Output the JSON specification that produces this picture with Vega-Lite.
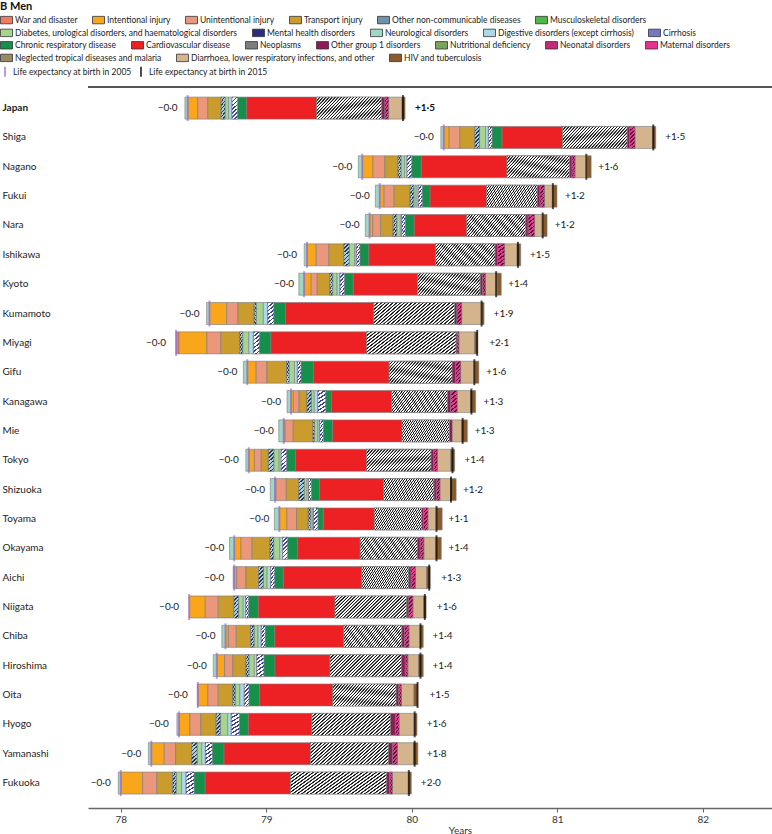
{
"$schema": "https://vega.github.io/schema/vega-lite/v6.json",
"width": 684, "height": 721,
"autosize": {"type": "none"},
"padding": {"left": 88, "top": 87, "right": 0, "bottom": 26},
"background": "white",
"config": {
  "font": "Lato, Liberation Sans, sans-serif",
  "view": {"stroke": "#555555", "strokeWidth": 2, "strokeDash": [684, 4000]},
  "legend": {"labelFontSize": 8.5, "labelColor": "#222222", "labelLimit": 400, "symbolStrokeColor": "#333333", "symbolStrokeWidth": 0.8, "symbolType": "M-1,-0.62H1V0.62H-1Z", "symbolSize": 144, "labelOffset": 2, "columnPadding": 12, "rowPadding": 0, "padding": 0, "orient": "none", "direction": "horizontal", "titlePadding": 2}
},
"datasets": {
  "causes": [
    {"code": "W", "name": "War and disaster", "order": 1},
    {"code": "I", "name": "Intentional injury", "order": 2},
    {"code": "U", "name": "Unintentional injury", "order": 3},
    {"code": "T", "name": "Transport injury", "order": 4},
    {"code": "O", "name": "Other non-communicable diseases", "order": 5},
    {"code": "D", "name": "Diabetes, urological disorders, and haematological disorders", "order": 7},
    {"code": "N", "name": "Neurological disorders", "order": 9},
    {"code": "Dg", "name": "Digestive disorders (except cirrhosis)", "order": 10},
    {"code": "C", "name": "Cirrhosis", "order": 11},
    {"code": "R", "name": "Chronic respiratory disease", "order": 12},
    {"code": "CV", "name": "Cardiovascular disease", "order": 13},
    {"code": "Ne", "name": "Neoplasms", "order": 14},
    {"code": "G1", "name": "Other group 1 disorders", "order": 15},
    {"code": "Nn", "name": "Neonatal disorders", "order": 17},
    {"code": "L", "name": "Diarrhoea, lower respiratory infections, and other", "order": 20},
    {"code": "H", "name": "HIV and tuberculosis", "order": 21}
  ]
},
"data": {"values": [
  {"p": "Japan", "a": 78.46, "b": 79.94, "pos": "+1·5", "N": -0.019, "I": 0.069, "U": 0.069, "T": 0.092, "O": 0.027, "D": 0.025, "Dg": 0.023, "C": 0.038, "R": 0.062, "CV": 0.481, "Ne": 0.447, "G1": 0.023, "Nn": 0.025, "L": 0.092, "H": 0.021},
  {"p": "Shiga", "a": 80.22, "b": 81.66, "pos": "+1·5", "N": -0.020, "I": 0.037, "U": 0.074, "T": 0.103, "O": 0.032, "D": 0.041, "Dg": 0.020, "C": 0.025, "R": 0.069, "CV": 0.415, "Ne": 0.444, "G1": 0.017, "Nn": 0.037, "L": 0.123, "H": 0.020},
  {"p": "Nagano", "a": 79.66, "b": 81.20, "pos": "+1·6", "N": -0.027, "I": 0.074, "U": 0.081, "T": 0.091, "O": 0.020, "D": 0.025, "Dg": 0.017, "C": 0.032, "R": 0.066, "CV": 0.589, "Ne": 0.430, "G1": 0.017, "Nn": 0.020, "L": 0.086, "H": 0.025},
  {"p": "Fukui", "a": 79.78, "b": 80.97, "pos": "+1·2", "N": -0.030, "I": 0.030, "U": 0.069, "T": 0.110, "O": 0.025, "D": 0.017, "Dg": 0.014, "C": 0.027, "R": 0.054, "CV": 0.388, "Ne": 0.348, "G1": 0.020, "Nn": 0.030, "L": 0.061, "H": 0.025},
  {"p": "Nara", "a": 79.71, "b": 80.90, "pos": "+1·2", "N": -0.029, "I": 0.022, "U": 0.054, "T": 0.086, "O": 0.025, "D": 0.025, "Dg": 0.010, "C": 0.024, "R": 0.061, "CV": 0.361, "Ne": 0.405, "G1": 0.017, "Nn": 0.044, "L": 0.061, "H": 0.025},
  {"p": "Ishikawa", "a": 79.28, "b": 80.73, "pos": "+1·5", "N": -0.019, "I": 0.064, "U": 0.086, "T": 0.103, "O": 0.037, "D": 0.037, "Dg": 0.012, "C": 0.025, "R": 0.061, "CV": 0.459, "Ne": 0.408, "G1": 0.017, "Nn": 0.049, "L": 0.086, "H": 0.025},
  {"p": "Kyoto", "a": 79.26, "b": 80.58, "pos": "+1·4", "N": -0.036, "I": 0.049, "U": 0.042, "T": 0.086, "O": 0.020, "D": 0.030, "Dg": 0.020, "C": 0.030, "R": 0.061, "CV": 0.442, "Ne": 0.430, "G1": 0.017, "Nn": 0.020, "L": 0.081, "H": 0.027},
  {"p": "Kumamoto", "a": 78.61, "b": 80.48, "pos": "+1·9", "N": -0.020, "I": 0.118, "U": 0.078, "T": 0.111, "O": 0.014, "D": 0.049, "Dg": 0.030, "C": 0.042, "R": 0.081, "CV": 0.606, "Ne": 0.555, "G1": 0.017, "Nn": 0.032, "L": 0.140, "H": 0.014},
  {"p": "Miyagi", "a": 78.38, "b": 80.45, "pos": "+2·1", "W": 0.020, "I": 0.192, "U": 0.096, "T": 0.130, "O": 0.020, "D": 0.042, "Dg": 0.032, "C": 0.042, "R": 0.078, "CV": 0.658, "Ne": 0.614, "G1": 0.008, "Nn": 0.012, "L": 0.108, "H": 0.020},
  {"p": "Gifu", "a": 78.87, "b": 80.43, "pos": "+1·6", "N": -0.027, "I": 0.061, "U": 0.074, "T": 0.135, "O": 0.017, "D": 0.037, "Dg": 0.020, "C": 0.025, "R": 0.086, "CV": 0.520, "Ne": 0.432, "G1": 0.025, "Nn": 0.034, "L": 0.098, "H": 0.027},
  {"p": "Kanagawa", "a": 79.17, "b": 80.41, "pos": "+1·3", "N": -0.027, "I": 0.017, "U": 0.039, "T": 0.054, "O": 0.030, "D": 0.020, "Dg": 0.025, "C": 0.054, "R": 0.039, "CV": 0.415, "Ne": 0.383, "G1": 0.022, "Nn": 0.044, "L": 0.093, "H": 0.034},
  {"p": "Mie", "a": 79.12, "b": 80.35, "pos": "+1·3", "N": -0.034, "I": 0.010, "U": 0.056, "T": 0.135, "O": 0.010, "D": 0.025, "Dg": 0.012, "C": 0.025, "R": 0.064, "CV": 0.476, "Ne": 0.326, "G1": 0.020, "L": 0.066, "H": 0.037},
  {"p": "Tokyo", "a": 78.88, "b": 80.28, "pos": "+1·4", "N": -0.020, "I": 0.039, "U": 0.047, "T": 0.049, "O": 0.037, "D": 0.037, "Dg": 0.014, "C": 0.037, "R": 0.061, "CV": 0.489, "Ne": 0.442, "G1": 0.020, "Nn": 0.025, "L": 0.091, "H": 0.027},
  {"p": "Shizuoka", "a": 79.06, "b": 80.27, "pos": "+1·2", "N": -0.032, "I": 0.007, "U": 0.071, "T": 0.086, "O": 0.037, "D": 0.020, "Dg": 0.010, "C": 0.020, "R": 0.056, "CV": 0.439, "Ne": 0.346, "G1": 0.017, "Nn": 0.025, "L": 0.074, "H": 0.037},
  {"p": "Toyama", "a": 79.09, "b": 80.17, "pos": "+1·1", "N": -0.034, "I": 0.052, "U": 0.066, "T": 0.081, "O": 0.017, "D": 0.014, "Dg": 0.005, "C": 0.030, "R": 0.037, "CV": 0.351, "Ne": 0.326, "G1": 0.012, "Nn": 0.030, "L": 0.061, "H": 0.037},
  {"p": "Okayama", "a": 78.78, "b": 80.17, "pos": "+1·4", "N": -0.032, "I": 0.047, "U": 0.076, "T": 0.123, "O": 0.025, "D": 0.042, "Dg": 0.020, "C": 0.034, "R": 0.069, "CV": 0.430, "Ne": 0.392, "G1": 0.020, "Nn": 0.025, "L": 0.083, "H": 0.037},
  {"p": "Aichi", "a": 78.78, "b": 80.12, "pos": "+1·3", "N": -0.007, "I": 0.017, "U": 0.064, "T": 0.086, "O": 0.034, "D": 0.025, "Dg": 0.025, "C": 0.027, "R": 0.059, "CV": 0.540, "Ne": 0.322, "G1": 0.017, "Nn": 0.030, "L": 0.076, "H": 0.025},
  {"p": "Niigata", "a": 78.47, "b": 80.09, "pos": "+1·6", "I": 0.111, "U": 0.089, "T": 0.108, "O": 0.032, "D": 0.032, "Dg": 0.017, "C": 0.020, "R": 0.066, "CV": 0.528, "Ne": 0.491, "G1": 0.012, "Nn": 0.032, "L": 0.074, "H": 0.017},
  {"p": "Chiba", "a": 78.72, "b": 80.06, "pos": "+1·4", "N": -0.025, "I": 0.020, "U": 0.054, "T": 0.098, "O": 0.025, "D": 0.027, "Dg": 0.022, "C": 0.027, "R": 0.066, "CV": 0.474, "Ne": 0.398, "G1": 0.020, "Nn": 0.030, "L": 0.078, "H": 0.020},
  {"p": "Hiroshima", "a": 78.66, "b": 80.06, "pos": "+1·4", "N": -0.024, "I": 0.054, "U": 0.056, "T": 0.091, "O": 0.020, "D": 0.037, "Dg": 0.017, "C": 0.049, "R": 0.076, "CV": 0.378, "Ne": 0.491, "G1": 0.027, "Nn": 0.017, "L": 0.074, "H": 0.032},
  {"p": "Oita", "a": 78.53, "b": 80.04, "pos": "+1·5", "N": -0.003, "I": 0.069, "U": 0.071, "T": 0.100, "O": 0.017, "D": 0.032, "Dg": 0.030, "C": 0.032, "R": 0.074, "CV": 0.503, "Ne": 0.434, "G1": 0.020, "Nn": 0.017, "L": 0.086, "H": 0.025},
  {"p": "Hyogo", "a": 78.40, "b": 80.02, "pos": "+1·6", "N": -0.014, "I": 0.076, "U": 0.074, "T": 0.106, "O": 0.030, "D": 0.049, "Dg": 0.025, "C": 0.056, "R": 0.061, "CV": 0.437, "Ne": 0.540, "G1": 0.034, "Nn": 0.025, "L": 0.106, "H": 0.017},
  {"p": "Yamanashi", "a": 78.21, "b": 80.02, "pos": "+1·8", "N": -0.020, "I": 0.089, "U": 0.078, "T": 0.111, "O": 0.037, "D": 0.032, "Dg": 0.025, "C": 0.047, "R": 0.081, "CV": 0.594, "Ne": 0.535, "G1": 0.030, "Nn": 0.032, "L": 0.111, "H": 0.030},
  {"p": "Fukuoka", "a": 78.00, "b": 79.98, "pos": "+2·0", "N": -0.017, "I": 0.150, "U": 0.098, "T": 0.108, "O": 0.025, "D": 0.037, "Dg": 0.032, "C": 0.054, "R": 0.076, "CV": 0.587, "Ne": 0.658, "G1": 0.025, "Nn": 0.017, "L": 0.113, "H": 0.017}
]},
"transform": [
  {"fold": ["W", "I", "U", "T", "O", "D", "N", "Dg", "C", "R", "CV", "Ne", "G1", "Nn", "L", "H"], "as": ["code", "v"]},
  {"filter": {"field": "v", "valid": true}},
  {"lookup": "code", "from": {"data": {"name": "causes"}, "key": "code", "fields": ["name", "order"]}},
  {"stack": "v", "groupby": ["p"], "sort": [{"field": "order", "order": "ascending"}], "as": ["s0", "s1"]},
  {"calculate": "datum.a + datum.s0", "as": "x0"},
  {"calculate": "datum.a + datum.s1", "as": "x1"}
],
"encoding": {
  "y": {"field": "p", "type": "nominal", "title": null,
    "scale": {"type": "band", "domain": ["Japan", "Shiga", "Nagano", "Fukui", "Nara", "Ishikawa", "Kyoto", "Kumamoto", "Miyagi", "Gifu", "Kanagawa", "Mie", "Tokyo", "Shizuoka", "Toyama", "Okayama", "Aichi", "Niigata", "Chiba", "Hiroshima", "Oita", "Hyogo", "Yamanashi", "Fukuoka"], "paddingInner": 0.25, "paddingOuter": 0.41, "align": 0.42},
    "axis": {"labelAlign": "left", "labelPadding": 86, "ticks": false, "domain": false, "labelFontSize": 10, "labelColor": "#222222", "labelBaseline": "middle", "labelLimit": 90,
      "labelFontWeight": {"condition": {"test": "datum.value === 'Japan'", "value": "bold"}, "value": "normal"}}}
},
"resolve": {"scale": {"color": "independent"}},
"layer": [
  {
    "transform": [{"filter": {"field": "name", "oneOf": ["War and disaster", "Intentional injury", "Unintentional injury", "Transport injury", "Other non-communicable diseases", "Musculoskeletal disorders"]}}],
    "mark": {"type": "rect", "stroke": "#7a7a7a", "strokeWidth": 0.6},
    "encoding": {
      "x": {"field": "x0", "type": "quantitative", "title": "Years", "scale": {"domain": [77.775, 82.476], "nice": false, "zero": false},
        "axis": {"orient": "bottom", "values": [78, 79, 80, 81, 82], "format": "d", "grid": false, "tickSize": 4, "tickColor": "#666666", "domainColor": "#666666", "domainWidth": 1.5, "labelFontSize": 10, "labelColor": "#333333", "labelPadding": 2, "titleFontSize": 10, "titleFontWeight": "normal", "titleColor": "#333333", "titleX": 372, "titleY": 22, "titleAlign": "center", "titleBaseline": "middle"}},
      "x2": {"field": "x1"},
      "color": {"field": "name", "type": "nominal",
        "scale": {"domain": ["War and disaster", "Intentional injury", "Unintentional injury", "Transport injury", "Other non-communicable diseases", "Musculoskeletal disorders"], "range": ["#f27a63", "#f9a61a", "#eb977c", "#c99c2d", "#6f93a8", "#4db848"]},
        "legend": {"title": "B   Men", "titleFontSize": 11, "titleFontWeight": "bold", "titleColor": "#111111", "columns": 6, "orient": "none", "legendX": -88, "legendY": -86.5}}
    }
  },
  {
    "transform": [{"filter": {"field": "name", "oneOf": ["Diabetes, urological disorders, and haematological disorders", "Mental health disorders", "Neurological disorders", "Digestive disorders (except cirrhosis)", "Cirrhosis"]}}],
    "mark": {"type": "rect", "stroke": "#7a7a7a", "strokeWidth": 0.6},
    "encoding": {
      "x": {"field": "x0", "type": "quantitative", "title": "Years", "scale": {"domain": [77.775, 82.476], "nice": false, "zero": false}},
      "x2": {"field": "x1"},
      "color": {"field": "name", "type": "nominal",
        "scale": {"domain": ["Diabetes, urological disorders, and haematological disorders", "Mental health disorders", "Neurological disorders", "Digestive disorders (except cirrhosis)", "Cirrhosis"], "range": ["#a5d58e", "#2b2c7c", "#9ed7c3", "#acd9ea", "#7578c0"]},
        "legend": {"title": null, "columns": 5, "orient": "none", "legendX": -88, "legendY": -60.7}}
    }
  },
  {
    "transform": [{"filter": {"field": "name", "oneOf": ["Chronic respiratory disease", "Cardiovascular disease", "Neoplasms", "Other group 1 disorders", "Nutritional deficiency", "Neonatal disorders", "Maternal disorders"]}}],
    "mark": {"type": "rect", "stroke": "#7a7a7a", "strokeWidth": 0.6},
    "encoding": {
      "x": {"field": "x0", "type": "quantitative", "title": "Years", "scale": {"domain": [77.775, 82.476], "nice": false, "zero": false}},
      "x2": {"field": "x1"},
      "color": {"field": "name", "type": "nominal",
        "scale": {"domain": ["Chronic respiratory disease", "Cardiovascular disease", "Neoplasms", "Other group 1 disorders", "Nutritional deficiency", "Neonatal disorders", "Maternal disorders"], "range": ["#15904a", "#ed2024", "#7d7d7d", "#8e1a57", "#7ca35a", "#c42a78", "#e8328e"]},
        "legend": {"title": null, "columns": 7, "orient": "none", "legendX": -88, "legendY": -48.3}}
    }
  },
  {
    "transform": [{"filter": {"field": "name", "oneOf": ["Neglected tropical diseases and malaria", "Diarrhoea, lower respiratory infections, and other", "HIV and tuberculosis"]}}],
    "mark": {"type": "rect", "stroke": "#7a7a7a", "strokeWidth": 0.6},
    "encoding": {
      "x": {"field": "x0", "type": "quantitative", "title": "Years", "scale": {"domain": [77.775, 82.476], "nice": false, "zero": false}},
      "x2": {"field": "x1"},
      "color": {"field": "name", "type": "nominal",
        "scale": {"domain": ["Neglected tropical diseases and malaria", "Diarrhoea, lower respiratory infections, and other", "HIV and tuberculosis"], "range": ["#9a8a62", "#d4b48d", "#8b5a2b"]},
        "legend": {"title": null, "columns": 3, "orient": "none", "legendX": -88, "legendY": -35.7}}
    }
  },
  {
    "transform": [{"filter": {"field": "code", "equal": "Ne"}}],
    "mark": {"type": "rect", "stroke": "#7a7a7a", "strokeWidth": 0.6,
      "fill": {"gradient": "linear", "x1": 0, "y1": 0, "x2": 1.196, "y2": 0.376, "stops": [
        {"offset": 0, "color": "#1a1a1a"}, {"offset": 0.0107, "color": "#1a1a1a"}, {"offset": 0.0161, "color": "#ffffff"}, {"offset": 0.0304, "color": "#ffffff"},
        {"offset": 0.0357, "color": "#1a1a1a"}, {"offset": 0.0464, "color": "#1a1a1a"}, {"offset": 0.0518, "color": "#ffffff"}, {"offset": 0.0661, "color": "#ffffff"},
        {"offset": 0.0714, "color": "#1a1a1a"}, {"offset": 0.0821, "color": "#1a1a1a"}, {"offset": 0.0875, "color": "#ffffff"}, {"offset": 0.1018, "color": "#ffffff"},
        {"offset": 0.1071, "color": "#1a1a1a"}, {"offset": 0.1179, "color": "#1a1a1a"}, {"offset": 0.1232, "color": "#ffffff"}, {"offset": 0.1375, "color": "#ffffff"},
        {"offset": 0.1429, "color": "#1a1a1a"}, {"offset": 0.1536, "color": "#1a1a1a"}, {"offset": 0.1589, "color": "#ffffff"}, {"offset": 0.1732, "color": "#ffffff"},
        {"offset": 0.1786, "color": "#1a1a1a"}, {"offset": 0.1893, "color": "#1a1a1a"}, {"offset": 0.1946, "color": "#ffffff"}, {"offset": 0.2089, "color": "#ffffff"},
        {"offset": 0.2143, "color": "#1a1a1a"}, {"offset": 0.2250, "color": "#1a1a1a"}, {"offset": 0.2304, "color": "#ffffff"}, {"offset": 0.2446, "color": "#ffffff"},
        {"offset": 0.2500, "color": "#1a1a1a"}, {"offset": 0.2607, "color": "#1a1a1a"}, {"offset": 0.2661, "color": "#ffffff"}, {"offset": 0.2804, "color": "#ffffff"},
        {"offset": 0.2857, "color": "#1a1a1a"}, {"offset": 0.2964, "color": "#1a1a1a"}, {"offset": 0.3018, "color": "#ffffff"}, {"offset": 0.3161, "color": "#ffffff"},
        {"offset": 0.3214, "color": "#1a1a1a"}, {"offset": 0.3321, "color": "#1a1a1a"}, {"offset": 0.3375, "color": "#ffffff"}, {"offset": 0.3518, "color": "#ffffff"},
        {"offset": 0.3571, "color": "#1a1a1a"}, {"offset": 0.3679, "color": "#1a1a1a"}, {"offset": 0.3732, "color": "#ffffff"}, {"offset": 0.3875, "color": "#ffffff"},
        {"offset": 0.3929, "color": "#1a1a1a"}, {"offset": 0.4036, "color": "#1a1a1a"}, {"offset": 0.4089, "color": "#ffffff"}, {"offset": 0.4232, "color": "#ffffff"},
        {"offset": 0.4286, "color": "#1a1a1a"}, {"offset": 0.4393, "color": "#1a1a1a"}, {"offset": 0.4446, "color": "#ffffff"}, {"offset": 0.4589, "color": "#ffffff"},
        {"offset": 0.4643, "color": "#1a1a1a"}, {"offset": 0.4750, "color": "#1a1a1a"}, {"offset": 0.4804, "color": "#ffffff"}, {"offset": 0.4946, "color": "#ffffff"},
        {"offset": 0.5000, "color": "#1a1a1a"}, {"offset": 0.5107, "color": "#1a1a1a"}, {"offset": 0.5161, "color": "#ffffff"}, {"offset": 0.5304, "color": "#ffffff"},
        {"offset": 0.5357, "color": "#1a1a1a"}, {"offset": 0.5464, "color": "#1a1a1a"}, {"offset": 0.5518, "color": "#ffffff"}, {"offset": 0.5661, "color": "#ffffff"},
        {"offset": 0.5714, "color": "#1a1a1a"}, {"offset": 0.5821, "color": "#1a1a1a"}, {"offset": 0.5875, "color": "#ffffff"}, {"offset": 0.6018, "color": "#ffffff"},
        {"offset": 0.6071, "color": "#1a1a1a"}, {"offset": 0.6179, "color": "#1a1a1a"}, {"offset": 0.6232, "color": "#ffffff"}, {"offset": 0.6375, "color": "#ffffff"},
        {"offset": 0.6429, "color": "#1a1a1a"}, {"offset": 0.6536, "color": "#1a1a1a"}, {"offset": 0.6589, "color": "#ffffff"}, {"offset": 0.6732, "color": "#ffffff"},
        {"offset": 0.6786, "color": "#1a1a1a"}, {"offset": 0.6893, "color": "#1a1a1a"}, {"offset": 0.6946, "color": "#ffffff"}, {"offset": 0.7089, "color": "#ffffff"},
        {"offset": 0.7143, "color": "#1a1a1a"}, {"offset": 0.7250, "color": "#1a1a1a"}, {"offset": 0.7304, "color": "#ffffff"}, {"offset": 0.7446, "color": "#ffffff"},
        {"offset": 0.7500, "color": "#1a1a1a"}, {"offset": 0.7607, "color": "#1a1a1a"}, {"offset": 0.7661, "color": "#ffffff"}, {"offset": 0.7804, "color": "#ffffff"},
        {"offset": 0.7857, "color": "#1a1a1a"}, {"offset": 0.7964, "color": "#1a1a1a"}, {"offset": 0.8018, "color": "#ffffff"}, {"offset": 0.8161, "color": "#ffffff"},
        {"offset": 0.8214, "color": "#1a1a1a"}, {"offset": 0.8321, "color": "#1a1a1a"}, {"offset": 0.8375, "color": "#ffffff"}, {"offset": 0.8518, "color": "#ffffff"},
        {"offset": 0.8571, "color": "#1a1a1a"}, {"offset": 0.8679, "color": "#1a1a1a"}, {"offset": 0.8732, "color": "#ffffff"}, {"offset": 0.8875, "color": "#ffffff"},
        {"offset": 0.8929, "color": "#1a1a1a"}, {"offset": 0.9036, "color": "#1a1a1a"}, {"offset": 0.9089, "color": "#ffffff"}, {"offset": 0.9232, "color": "#ffffff"},
        {"offset": 0.9286, "color": "#1a1a1a"}, {"offset": 0.9393, "color": "#1a1a1a"}, {"offset": 0.9446, "color": "#ffffff"}, {"offset": 0.9589, "color": "#ffffff"},
        {"offset": 0.9643, "color": "#1a1a1a"}, {"offset": 0.9750, "color": "#1a1a1a"}, {"offset": 0.9804, "color": "#ffffff"}, {"offset": 1, "color": "#ffffff"}
      ]}},
    "encoding": {
      "x": {"field": "x0", "type": "quantitative", "title": "Years", "scale": {"domain": [77.775, 82.476], "nice": false, "zero": false}},
      "x2": {"field": "x1"}
    }
  },
  {
    "transform": [{"filter": {"field": "code", "equal": "O"}}],
    "mark": {"type": "rect", "stroke": "#7a7a7a", "strokeWidth": 0.6,
      "fill": {"gradient": "linear", "x1": 0, "y1": 0, "x2": 0.265, "y2": 1.167, "stops": [
        {"offset": 0, "color": "#22344a"}, {"offset": 0.057, "color": "#22344a"}, {"offset": 0.057, "color": "#a9cfe2"}, {"offset": 0.143, "color": "#a9cfe2"},
        {"offset": 0.143, "color": "#22344a"}, {"offset": 0.200, "color": "#22344a"}, {"offset": 0.200, "color": "#a9cfe2"}, {"offset": 0.286, "color": "#a9cfe2"},
        {"offset": 0.286, "color": "#22344a"}, {"offset": 0.343, "color": "#22344a"}, {"offset": 0.343, "color": "#a9cfe2"}, {"offset": 0.429, "color": "#a9cfe2"},
        {"offset": 0.429, "color": "#22344a"}, {"offset": 0.486, "color": "#22344a"}, {"offset": 0.486, "color": "#a9cfe2"}, {"offset": 0.571, "color": "#a9cfe2"},
        {"offset": 0.571, "color": "#22344a"}, {"offset": 0.629, "color": "#22344a"}, {"offset": 0.629, "color": "#a9cfe2"}, {"offset": 0.714, "color": "#a9cfe2"},
        {"offset": 0.714, "color": "#22344a"}, {"offset": 0.771, "color": "#22344a"}, {"offset": 0.771, "color": "#a9cfe2"}, {"offset": 0.857, "color": "#a9cfe2"},
        {"offset": 0.857, "color": "#22344a"}, {"offset": 0.914, "color": "#22344a"}, {"offset": 0.914, "color": "#a9cfe2"}, {"offset": 1, "color": "#a9cfe2"}
      ]}},
    "encoding": {
      "x": {"field": "x0", "type": "quantitative", "title": "Years", "scale": {"domain": [77.775, 82.476], "nice": false, "zero": false}},
      "x2": {"field": "x1"}
    }
  },
  {
    "transform": [{"filter": {"field": "code", "equal": "C"}}],
    "mark": {"type": "rect", "stroke": "#7a7a7a", "strokeWidth": 0.6,
      "fill": {"gradient": "linear", "x1": 0, "y1": 0, "x2": 0.265, "y2": 1.167, "stops": [
        {"offset": 0, "color": "#3a3f9e"}, {"offset": 0.057, "color": "#3a3f9e"}, {"offset": 0.057, "color": "#ffffff"}, {"offset": 0.143, "color": "#ffffff"},
        {"offset": 0.143, "color": "#3a3f9e"}, {"offset": 0.200, "color": "#3a3f9e"}, {"offset": 0.200, "color": "#ffffff"}, {"offset": 0.286, "color": "#ffffff"},
        {"offset": 0.286, "color": "#3a3f9e"}, {"offset": 0.343, "color": "#3a3f9e"}, {"offset": 0.343, "color": "#ffffff"}, {"offset": 0.429, "color": "#ffffff"},
        {"offset": 0.429, "color": "#3a3f9e"}, {"offset": 0.486, "color": "#3a3f9e"}, {"offset": 0.486, "color": "#ffffff"}, {"offset": 0.571, "color": "#ffffff"},
        {"offset": 0.571, "color": "#3a3f9e"}, {"offset": 0.629, "color": "#3a3f9e"}, {"offset": 0.629, "color": "#ffffff"}, {"offset": 0.714, "color": "#ffffff"},
        {"offset": 0.714, "color": "#3a3f9e"}, {"offset": 0.771, "color": "#3a3f9e"}, {"offset": 0.771, "color": "#ffffff"}, {"offset": 0.857, "color": "#ffffff"},
        {"offset": 0.857, "color": "#3a3f9e"}, {"offset": 0.914, "color": "#3a3f9e"}, {"offset": 0.914, "color": "#ffffff"}, {"offset": 1, "color": "#ffffff"}
      ]}},
    "encoding": {
      "x": {"field": "x0", "type": "quantitative", "title": "Years", "scale": {"domain": [77.775, 82.476], "nice": false, "zero": false}},
      "x2": {"field": "x1"}
    }
  },
  {
    "transform": [{"filter": {"field": "code", "equal": "Nn"}}],
    "mark": {"type": "rect", "stroke": "#7a7a7a", "strokeWidth": 0.6,
      "fill": {"gradient": "linear", "x1": 0, "y1": 0, "x2": 0.265, "y2": 1.167, "stops": [
        {"offset": 0, "color": "#5c1036"}, {"offset": 0.057, "color": "#5c1036"}, {"offset": 0.057, "color": "#ea3a92"}, {"offset": 0.143, "color": "#ea3a92"},
        {"offset": 0.143, "color": "#5c1036"}, {"offset": 0.200, "color": "#5c1036"}, {"offset": 0.200, "color": "#ea3a92"}, {"offset": 0.286, "color": "#ea3a92"},
        {"offset": 0.286, "color": "#5c1036"}, {"offset": 0.343, "color": "#5c1036"}, {"offset": 0.343, "color": "#ea3a92"}, {"offset": 0.429, "color": "#ea3a92"},
        {"offset": 0.429, "color": "#5c1036"}, {"offset": 0.486, "color": "#5c1036"}, {"offset": 0.486, "color": "#ea3a92"}, {"offset": 0.571, "color": "#ea3a92"},
        {"offset": 0.571, "color": "#5c1036"}, {"offset": 0.629, "color": "#5c1036"}, {"offset": 0.629, "color": "#ea3a92"}, {"offset": 0.714, "color": "#ea3a92"},
        {"offset": 0.714, "color": "#5c1036"}, {"offset": 0.771, "color": "#5c1036"}, {"offset": 0.771, "color": "#ea3a92"}, {"offset": 0.857, "color": "#ea3a92"},
        {"offset": 0.857, "color": "#5c1036"}, {"offset": 0.914, "color": "#5c1036"}, {"offset": 0.914, "color": "#ea3a92"}, {"offset": 1, "color": "#ea3a92"}
      ]}},
    "encoding": {
      "x": {"field": "x0", "type": "quantitative", "title": "Years", "scale": {"domain": [77.775, 82.476], "nice": false, "zero": false}},
      "x2": {"field": "x1"}
    }
  },
  {
    "transform": [{"filter": {"field": "code", "equal": "CV"}}, {"fold": ["a", "b"], "as": ["le", "yr"]}],
    "mark": {"type": "tick", "thickness": 2, "size": 26},
    "encoding": {
      "x": {"field": "yr", "type": "quantitative", "title": "Years", "scale": {"domain": [77.775, 82.476], "nice": false, "zero": false}},
      "color": {"field": "le", "type": "nominal",
        "scale": {"domain": ["a", "b"], "range": ["#9c70cf", "#000000"]},
        "legend": {"title": null, "columns": 2, "orient": "none", "legendX": -88, "legendY": -20.3,
          "labelExpr": "datum.value === 'a' ? 'Life expectancy at birth in 2005' : 'Life expectancy at birth in 2015'",
          "symbolType": "M-0.2,-1H0.2V1H-0.2Z", "symbolSize": 100, "symbolStrokeWidth": 0, "labelOffset": 3, "columnPadding": 4}}
    }
  },
  {
    "transform": [{"filter": {"field": "code", "equal": "CV"}}],
    "mark": {"type": "text", "align": "right", "baseline": "middle", "dx": -10, "fontSize": 10, "color": "#222222", "text": "−0·0"},
    "encoding": {
      "x": {"field": "a", "type": "quantitative", "title": "Years", "scale": {"domain": [77.775, 82.476], "nice": false, "zero": false}}
    }
  },
  {
    "transform": [{"filter": {"field": "code", "equal": "CV"}}, {"filter": "datum.p !== 'Japan'"}],
    "mark": {"type": "text", "align": "left", "baseline": "middle", "dx": 12, "fontSize": 10, "color": "#222222"},
    "encoding": {
      "x": {"field": "b", "type": "quantitative", "title": "Years", "scale": {"domain": [77.775, 82.476], "nice": false, "zero": false}},
      "text": {"field": "pos"}
    }
  },
  {
    "transform": [{"filter": {"field": "code", "equal": "CV"}}, {"filter": "datum.p === 'Japan'"}],
    "mark": {"type": "text", "align": "left", "baseline": "middle", "dx": 12, "fontSize": 10, "fontWeight": "bold", "color": "#111111"},
    "encoding": {
      "x": {"field": "b", "type": "quantitative", "title": "Years", "scale": {"domain": [77.775, 82.476], "nice": false, "zero": false}},
      "text": {"field": "pos"}
    }
  }
]
}
